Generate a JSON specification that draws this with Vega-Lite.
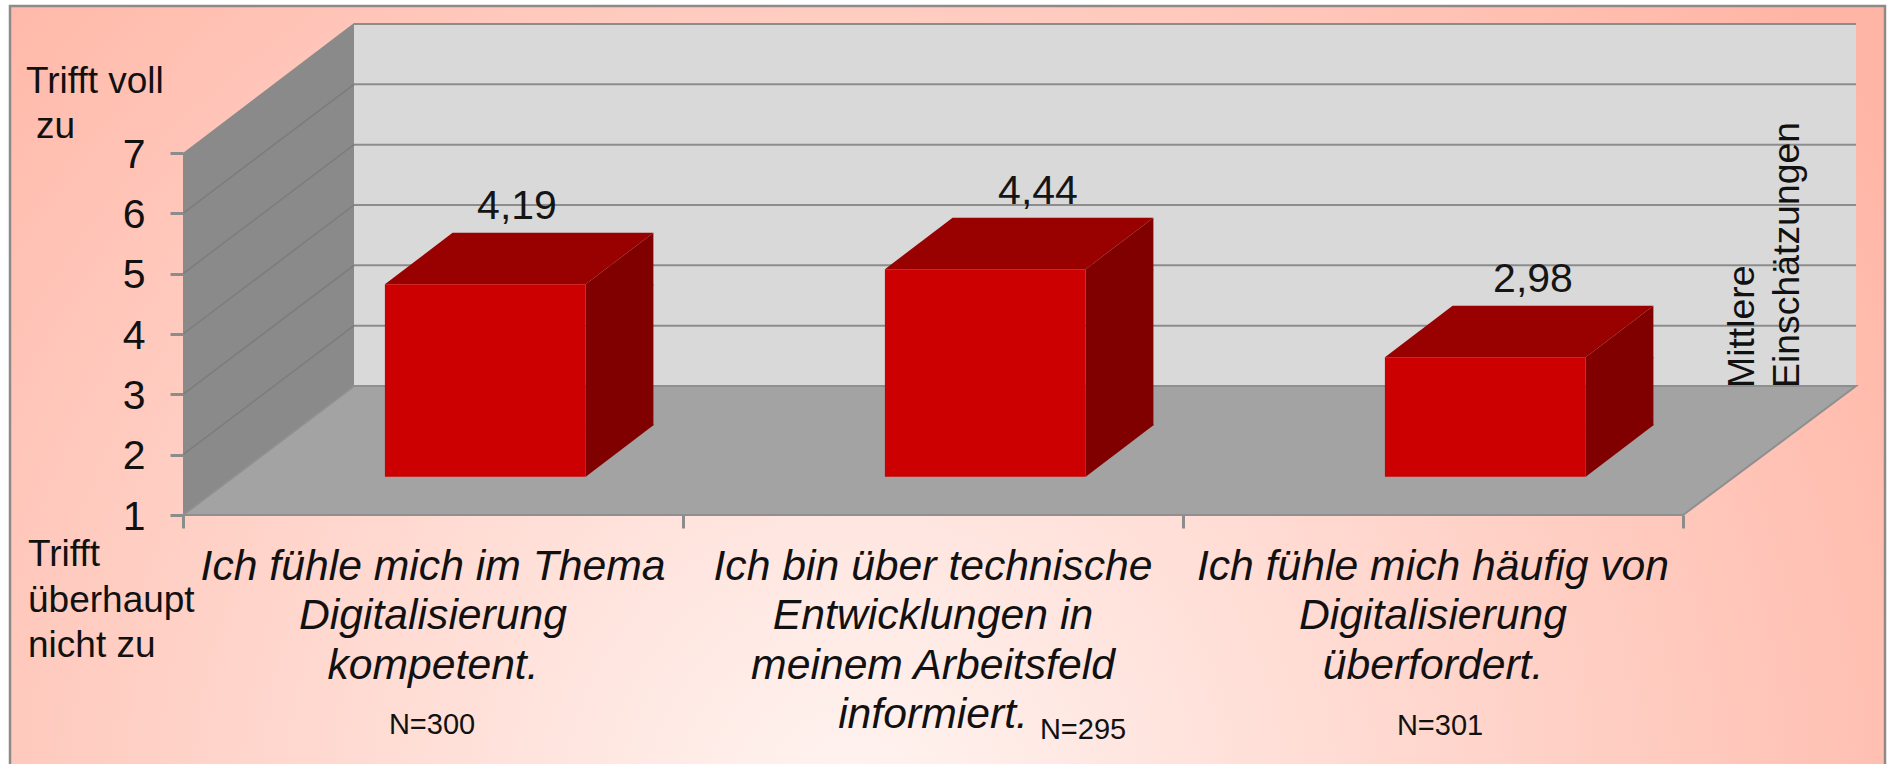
{
"$schema":"https://vega.github.io/schema/vega-lite/v6.json",
"width":1891,"height":764,"autosize":"none","padding":0,"background":"#ffffff",
"config":{"view":{"stroke":null},"text":{"font":"Liberation Sans"}},
"datasets":{
"bars":[
{"pos":1,"value":4.19,"label":"4,19","labelPos":1.168,"question":"Ich fühle mich im Thema\nDigitalisierung\nkompetent.","n":"N=300","nPos":0.998,"nLevel":-2.63},
{"pos":2,"value":4.44,"label":"4,44","labelPos":2.21,"question":"Ich bin über technische\nEntwicklungen in\nmeinem Arbeitsfeld\ninformiert.","n":"N=295","nPos":2.3,"nLevel":-2.713},
{"pos":3,"value":2.98,"label":"2,98","labelPos":3.2,"question":"Ich fühle mich häufig von\nDigitalisierung\nüberfordert.","n":"N=301","nPos":3.014,"nLevel":-2.647}],
"levels":[{"level":1},{"level":2},{"level":3},{"level":4},{"level":5},{"level":6},{"level":7}],
"inner":[{"level":2},{"level":3},{"level":4},{"level":5},{"level":6}],
"notes":[
{"text":"Trifft voll","pos":0.186,"level":7.995},
{"text":"zu","pos":0.206,"level":7.249},
{"text":"Trifft","pos":0.19,"level":0.155},
{"text":"überhaupt","pos":0.19,"level":-0.608},
{"text":"nicht zu","pos":0.19,"level":-1.354}],
"side":[
{"text":"Mittlere","pos":3.642,"level":3.105},
{"text":"Einschätzungen","pos":3.732,"level":3.105}]
},
"layer":[
{"data":{"values":[{}]},
 "mark":{"type":"rect","stroke":"#8f8a88","strokeWidth":2.5,
  "fill":{"gradient":"radial","x1":0.45,"y1":0.72,"r1":0,"x2":0.45,"y2":0.72,"r2":0.66,
   "stops":[{"offset":0,"color":"#fff4f1"},{"offset":0.45,"color":"#ffd8cf"},{"offset":1,"color":"#ffb5a5"}]}},
 "encoding":{
  "x":{"datum":0.154,"type":"quantitative","title":null,"scale":{"domain":[0.134,3.916],"nice":false,"zero":false,"padding":0},
   "axis":{"values":[0.5,1.5,2.5,3.5],"orient":"bottom","offset":-249,"domain":false,"grid":false,"labels":false,"tickSize":13,"tickColor":"#8c8c8c","tickWidth":3,"zindex":1,"title":null}},
  "x2":{"datum":3.904},
  "y":{"datum":9.437,"type":"quantitative","title":null,"scale":{"domain":[-3.127,9.536],"nice":false,"zero":false,"padding":0},
   "axis":{"values":[1,2,3,4,5,6,7],"format":"d","orient":"left","offset":-183,"domain":false,"grid":false,"tickSize":13,"tickColor":"#8c8c8c","tickWidth":3,"labelFont":"Liberation Sans","labelFontSize":41,"labelColor":"#111111","labelPadding":25,"labelOffset":2,"zindex":1,"title":null}},
  "y2":{"datum":-3.3}}},
{"data":{"values":[{}]},
 "mark":{"type":"rect","fill":"#d9d9d9"},
 "encoding":{"x":{"datum":0.842,"type":"quantitative"},"x2":{"datum":3.846},"y":{"datum":9.123,"type":"quantitative"},"y2":{"datum":3.138}}},
{"data":{"name":"levels"},
 "mark":{"type":"rule","color":"#8c8c8c","strokeWidth":2,"yOffset":-129},
 "encoding":{"x":{"datum":0.842,"type":"quantitative"},"x2":{"datum":3.846},"y":{"field":"level","type":"quantitative"}}},
{"data":{"values":[{}]},
 "mark":{"type":"point","filled":true,"size":4,"opacity":1,"fill":"#8a8a8a","shape":"M0,0L171,-129L171,-492L0,-362Z"},
 "encoding":{"x":{"datum":0.5,"type":"quantitative"},"y":{"datum":1,"type":"quantitative"}}},
{"data":{"name":"inner"},
 "mark":{"type":"point","filled":false,"size":4,"opacity":1,"stroke":"#7c7c7c","strokeWidth":1.5,"shape":"M0,0L171,-129"},
 "encoding":{"x":{"datum":0.5,"type":"quantitative"},"y":{"field":"level","type":"quantitative"}}},
{"data":{"values":[{}]},
 "mark":{"type":"point","filled":true,"size":4,"opacity":1,"fill":"#a3a3a3","stroke":"#8f8f8f","strokeWidth":2,"shape":"M0,0L171,-129L1673,-129L1500,0Z"},
 "encoding":{"x":{"datum":0.5,"type":"quantitative"},"y":{"datum":1,"type":"quantitative"}}},
{"data":{"name":"bars"},
 "mark":{"type":"point","filled":true,"size":4,"opacity":1,"fill":"#800000","xOffset":52.3,"yOffset":-38.3,"shape":"M100.4,0L168.1,-51.4V1H100.4Z"},
 "encoding":{"x":{"field":"pos","type":"quantitative"},"y":{"field":"value","type":"quantitative"}}},
{"data":{"name":"bars"},
 "mark":{"type":"point","filled":true,"size":4,"opacity":1,"fill":"#800000","xOffset":52.3,"yOffset":-38.3,"shape":"M100.4,0L168.1,-51.4V-52.4H100.4Z"},
 "encoding":{"x":{"field":"pos","type":"quantitative"},"y":{"datum":1,"type":"quantitative"}}},
{"data":{"name":"bars"},
 "mark":{"type":"bar","fill":"#800000","width":67.7,"xOffset":186.55,"yOffset":-38.3,"y2Offset":-89.7},
 "encoding":{"x":{"field":"pos","type":"quantitative"},"y":{"field":"value","type":"quantitative","stack":null},"y2":{"datum":1}}},
{"data":{"name":"bars"},
 "mark":{"type":"point","filled":true,"size":4,"opacity":1,"fill":"#990000","xOffset":52.3,"yOffset":-38.3,"shape":"M-100.4,0L100.4,0L168.1,-51.4L-32.7,-51.4Z"},
 "encoding":{"x":{"field":"pos","type":"quantitative"},"y":{"field":"value","type":"quantitative"}}},
{"data":{"name":"bars"},
 "mark":{"type":"bar","fill":"#cc0000","width":200.8,"xOffset":52.3,"yOffset":-38.3,"y2Offset":-38.3},
 "encoding":{"x":{"field":"pos","type":"quantitative"},"y":{"field":"value","type":"quantitative","stack":null},"y2":{"datum":1}}},
{"data":{"name":"bars"},
 "mark":{"type":"text","font":"Liberation Sans","fontSize":41,"color":"#151515","align":"center","baseline":"alphabetic","yOffset":-103.5},
 "encoding":{"x":{"field":"labelPos","type":"quantitative"},"y":{"field":"value","type":"quantitative"},"text":{"field":"label"}}},
{"data":{"name":"bars"},
 "mark":{"type":"text","font":"Liberation Sans","fontSize":42.7,"fontStyle":"italic","color":"#111111","align":"center","baseline":"alphabetic","lineBreak":"\n","lineHeight":49.5},
 "encoding":{"x":{"field":"pos","type":"quantitative"},"y":{"datum":-0.075,"type":"quantitative"},"text":{"field":"question"}}},
{"data":{"name":"bars"},
 "mark":{"type":"text","font":"Liberation Sans","fontSize":29,"color":"#111111","align":"center","baseline":"alphabetic"},
 "encoding":{"x":{"field":"nPos","type":"quantitative"},"y":{"field":"nLevel","type":"quantitative"},"text":{"field":"n"}}},
{"data":{"name":"notes"},
 "mark":{"type":"text","font":"Liberation Sans","fontSize":37,"color":"#111111","align":"left","baseline":"alphabetic"},
 "encoding":{"x":{"field":"pos","type":"quantitative"},"y":{"field":"level","type":"quantitative"},"text":{"field":"text"}}},
{"data":{"name":"side"},
 "mark":{"type":"text","font":"Liberation Sans","fontSize":37.4,"color":"#111111","align":"left","baseline":"alphabetic","angle":270},
 "encoding":{"x":{"field":"pos","type":"quantitative"},"y":{"field":"level","type":"quantitative"},"text":{"field":"text"}}}
]
}
